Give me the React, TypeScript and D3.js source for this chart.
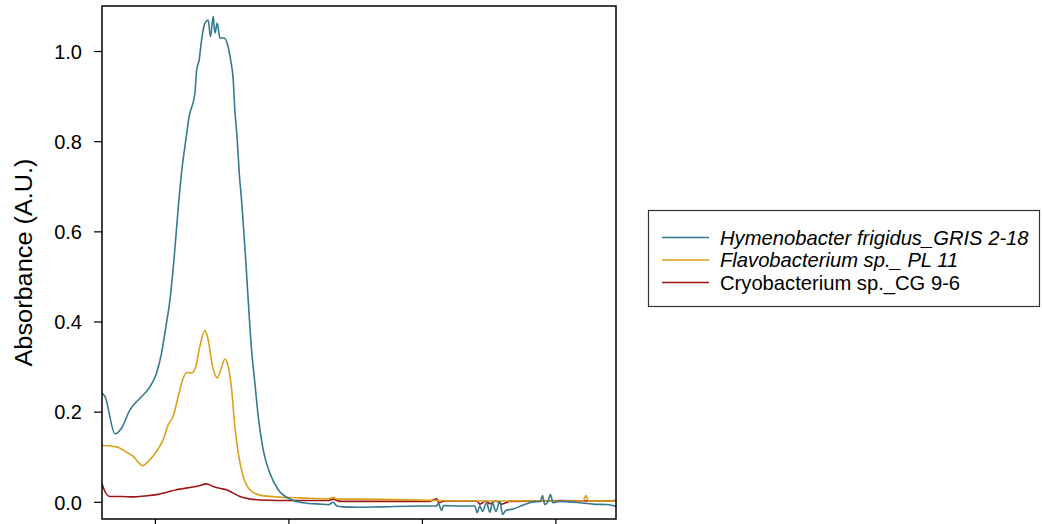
import React from "react";
import * as d3 from "d3";

// Wavelength (nm) and absorbance (A.U.) for each strain
const hymenoWl = [360, 362.2, 369.7, 374.7, 380.9, 388.4, 395.9, 400.9, 404.6, 407.9, 410.9, 413.9, 417.6, 420.1, 422.8, 425.3, 429.6, 430.9, 432.8, 434.6, 437.1, 439.5, 441.3, 443.3, 444.6, 446.3, 448.3, 451.3, 454.1, 456.3, 458.3, 459.5, 461.3, 462.8, 464.5, 466.3, 467.5, 469.5, 472.0, 474.5, 477.0, 480.7, 485.7, 492.0, 500.7, 510.7, 523.2, 530, 533.1, 536, 540.4, 551.6, 568.1, 598.1, 610.6, 611.9, 614.3, 616.0, 628.0, 639.2, 641.0, 643.0, 645.0, 648.0, 650.5, 652.5, 655.0, 658.0, 660.0, 662.5, 667.9, 672.9, 678.0, 682.9, 688.4, 689.9, 691.7, 694.1, 695.9, 697.9, 702.9, 710.4, 717.9, 727.8, 737.9, 745];
const hymenoAbs = [0.242, 0.235, 0.152, 0.165, 0.205, 0.231, 0.256, 0.287, 0.331, 0.390, 0.449, 0.538, 0.671, 0.745, 0.804, 0.856, 0.908, 0.959, 0.982, 1.026, 1.063, 1.070, 1.033, 1.078, 1.041, 1.063, 1.030, 1.030, 1.015, 0.982, 0.937, 0.871, 0.804, 0.730, 0.671, 0.597, 0.545, 0.449, 0.339, 0.265, 0.191, 0.117, 0.065, 0.028, 0.0075, -0.001, -0.004, -0.005, 0.000, -0.008, -0.010, -0.011, -0.010, -0.008, -0.008, -0.002, -0.018, -0.007, -0.008, -0.008, -0.023, -0.008, -0.020, -0.001, -0.022, -0.001, -0.020, 0.002, -0.027, -0.018, -0.015, -0.009, -0.003, 0.001, 0.002, 0.015, -0.005, 0.002, 0.017, -0.001, 0.002, 0.001, -0.001, -0.004, -0.005, -0.009];

const flavoWl = [360, 370.9, 378.4, 383.4, 387.1, 390.4, 394.6, 400.9, 405.8, 409.6, 413.3, 417.1, 420.4, 423.4, 427.1, 430.3, 433.3, 437.1, 439.5, 442.8, 446.3, 449.0, 452.0, 454.5, 457.1, 459.5, 462.0, 465.7, 470.8, 478.2, 490.8, 500.7, 508.2, 530, 533.1, 536, 553.1, 605.5, 610.6, 643.0, 695.4, 720.5, 722.4, 724.3, 745];
const flavoAbs = [0.126, 0.123, 0.111, 0.102, 0.089, 0.081, 0.091, 0.113, 0.139, 0.172, 0.191, 0.235, 0.272, 0.288, 0.287, 0.302, 0.346, 0.381, 0.361, 0.302, 0.276, 0.294, 0.318, 0.302, 0.250, 0.168, 0.110, 0.058, 0.028, 0.016, 0.012, 0.0104, 0.0098, 0.008, 0.011, 0.007, 0.007, 0.0044, 0.004, 0.003, 0.003, 0.003, 0.015, 0.003, 0.003];

const cryoWl = [360, 362.2, 365.9, 375, 383.4, 392, 400.9, 408, 415.9, 420, 425.8, 432, 438.3, 443.3, 448, 453.3, 458, 463.3, 470.8, 480, 490.8, 508.2, 530, 533.1, 538.2, 570, 605.5, 610.8, 612.3, 616.8, 640.7, 643, 647.5, 650.5, 655, 659.5, 665.4, 688, 703, 733, 745];
const cryoAbs = [0.041, 0.024, 0.013, 0.013, 0.012, 0.014, 0.017, 0.022, 0.028, 0.030, 0.033, 0.036, 0.041, 0.035, 0.031, 0.028, 0.021, 0.013, 0.0075, 0.005, 0.004, 0.004, 0.004, 0.007, 0.002, 0.002, 0.002, 0.008, -0.001, 0.003, 0.003, -0.004, 0.003, -0.003, 0.003, -0.004, 0.002, 0.003, 0.004, 0.003, 0.004];

const seriesNames = ["Hymenobacter frigidus_GRIS 2-18", "Flavobacterium sp._ PL 11", "Cryobacterium sp._CG 9-6"];
const seriesItalic = [true, true, false];
const seriesColors = ["#35798c", "#dba11c", "#9e1414"];

const yTicks = [0.0, 0.2, 0.4, 0.6, 0.8, 1.0];
const xTicks = [400, 500, 600, 700];

const W = 1042;
const H = 524;
const plot = { left: 102, right: 616, top: 6, bottom: 519 };

export default function App() {
  const x = d3.scaleLinear().domain([360, 745]).range([plot.left, plot.right]);
  const y = d3.scaleLinear().domain([-0.037, 1.101]).range([plot.bottom, plot.top]);
  const line = d3
    .line<[number, number]>()
    .x((d) => x(d[0]))
    .y((d) => y(d[1]))
    .curve(d3.curveMonotoneX);

  const series = [
    { wl: hymenoWl, ab: hymenoAbs },
    { wl: flavoWl, ab: flavoAbs },
    { wl: cryoWl, ab: cryoAbs },
  ];

  const font = "'Liberation Sans', Arial, sans-serif";

  return (
    <svg
      width={W}
      height={H}
      style={{ position: "absolute", left: 0, top: 0, background: "#fff", overflow: "hidden" }}
      fontFamily={font}
    >
      <defs>
        <clipPath id="plotclip">
          <rect x={plot.left} y={plot.top} width={plot.right - plot.left} height={plot.bottom - plot.top} />
        </clipPath>
      </defs>
      <g clipPath="url(#plotclip)">
        {series
          .map((s, i) => (
            <path
              key={i}
              d={line(s.wl.map((w, k) => [w, s.ab[k]] as [number, number])) || ""}
              fill="none"
              stroke={seriesColors[i]}
              strokeWidth={1.6}
              strokeLinejoin="round"
            />
          ))
          .reverse()}
      </g>
      <rect
        x={plot.left}
        y={plot.top}
        width={plot.right - plot.left}
        height={plot.bottom - plot.top}
        fill="none"
        stroke="#000"
        strokeWidth={1.5}
      />
      {yTicks.map((t) => (
        <g key={t} transform={`translate(0,${y(t)})`}>
          <line x1={plot.left - 8} x2={plot.left} stroke="#000" strokeWidth={1.2} />
          <text x={82} dy="0.36em" textAnchor="end" fontSize={20} fill="#000">
            {t.toFixed(1)}
          </text>
        </g>
      ))}
      {xTicks.map((t) => (
        <g key={t} transform={`translate(${x(t)},${plot.bottom})`}>
          <line y1={0} y2={8} stroke="#000" strokeWidth={1.2} />
        </g>
      ))}
      <text
        transform={`translate(32,${(plot.top + plot.bottom) / 2}) rotate(-90)`}
        textAnchor="middle"
        fontSize={23}
        textLength={208}
        lengthAdjust="spacingAndGlyphs"
        fill="#000"
      >
        Absorbance (A.U.)
      </text>
      <g>
        <rect x={648.5} y={210.5} width={391} height={96} fill="#fff" stroke="#333" strokeWidth={1.2} />
        {seriesNames.map((name, i) => {
          const ly = 237.5 + i * 22.5;
          return (
            <g key={name}>
              <line x1={662} x2={709} y1={ly} y2={ly} stroke={seriesColors[i]} strokeWidth={1.6} />
              <text x={720} y={ly} dy="0.36em" fontSize={20.2} fontStyle={seriesItalic[i] ? "italic" : "normal"} fill="#000">
                {name}
              </text>
            </g>
          );
        })}
      </g>
    </svg>
  );
}
